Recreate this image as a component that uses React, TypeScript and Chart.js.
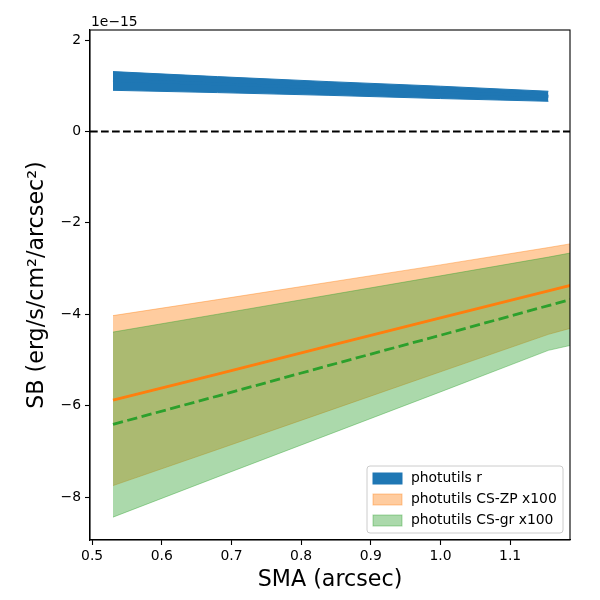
import { useEffect, useRef } from 'react'
import { Chart, registerables } from 'chart.js'

Chart.register(...registerables)

// SB values are in units of 1e-15 erg/s/cm^2/arcsec^2
const sma = [0.53, 0.68, 0.84, 1.0, 1.155, 1.26]
const smaR = [0.53, 0.68, 0.84, 1.0, 1.155]

const rUpper = [1.31, 1.2, 1.09, 0.99, 0.88]
const rLower = [0.9, 0.85, 0.79, 0.72, 0.66]
const rMid = [1.12, 1.04, 0.95, 0.86, 0.77]

const zpUpper = [-4.03, -3.68, -3.3, -2.92, -2.54, -2.27]
const zpMid = [-5.88, -5.31, -4.69, -4.08, -3.49, -3.09]
const zpLower = [-7.75, -6.96, -6.11, -5.26, -4.44, -4.0]

const grUpper = [-4.39, -4.0, -3.58, -3.16, -2.75, -2.45]
const grMid = [-6.41, -5.79, -5.12, -4.46, -3.81, -3.38]
const grLower = [-8.44, -7.56, -6.63, -5.7, -4.79, -4.43]

const xTicks = [0.5, 0.6, 0.7, 0.8, 0.9, 1.0, 1.1]
const yTicks = [-8, -6, -4, -2, 0, 2]

const legendLabels = ['photutils r', 'photutils CS-ZP x100', 'photutils CS-gr x100']
const legendFills = ['#1f77b4', 'rgba(255,127,14,0.4)', 'rgba(44,160,44,0.4)']
const legendEdges = ['#1f77b4', 'rgba(255,127,14,0.4)', 'rgba(44,160,44,0.4)']

const FONT = "'DejaVu Sans', sans-serif"

const pts = (xs: number[], ys: number[]) => xs.map((x, i) => ({ x, y: ys[i] }))

const minus = (v: number) => (v < 0 ? '\u2212' + Math.abs(v) : String(v))

const decorations = {
  id: 'decorations',
  afterDatasetsDraw(chart: any) {
    const { ctx, chartArea, scales } = chart
    const { left, right, top, bottom } = chartArea

    // dashed zero line
    const y0 = scales.y.getPixelForValue(0)
    ctx.save()
    ctx.strokeStyle = '#000'
    ctx.lineWidth = 2
    ctx.setLineDash([7.7, 3.3])
    ctx.beginPath()
    ctx.moveTo(left, y0)
    ctx.lineTo(right, y0)
    ctx.stroke()
    ctx.restore()

    // frame
    ctx.save()
    ctx.strokeStyle = '#000'
    ctx.lineWidth = 1.1
    ctx.strokeRect(left, top, right - left, bottom - top)
    ctx.restore()

    // offset text
    ctx.save()
    ctx.fillStyle = '#000'
    ctx.font = `13.9px ${FONT}`
    ctx.textAlign = 'left'
    ctx.textBaseline = 'alphabetic'
    ctx.fillText('1e\u221215', left + 1, top - 4)
    ctx.restore()

    // legend
    const boxW = 196
    const boxH = 67
    const bx = right - 7 - boxW
    const by = bottom - 7 - boxH
    ctx.save()
    ctx.beginPath()
    ctx.roundRect(bx, by, boxW, boxH, 3)
    ctx.fillStyle = 'rgba(255,255,255,0.8)'
    ctx.fill()
    ctx.strokeStyle = '#cccccc'
    ctx.lineWidth = 1
    ctx.stroke()
    ctx.font = `13.9px ${FONT}`
    ctx.textBaseline = 'middle'
    legendLabels.forEach((label, i) => {
      const cy = by + 12.5 + i * 21
      ctx.fillStyle = '#fff'
      ctx.fillRect(bx + 6, cy - 5.5, 29, 11)
      ctx.fillStyle = legendFills[i]
      ctx.fillRect(bx + 6, cy - 5.5, 29, 11)
      ctx.strokeStyle = legendEdges[i]
      ctx.strokeRect(bx + 6, cy - 5.5, 29, 11)
      ctx.fillStyle = '#000'
      ctx.fillText(label, bx + 44, cy)
    })
    ctx.restore()
  },
}

export default function App() {
  const canvasRef = useRef<HTMLCanvasElement>(null)
  const chartRef = useRef<Chart | null>(null)

  useEffect(() => {
    document.body.style.margin = '0'
    if (!canvasRef.current) return
    if (chartRef.current) chartRef.current.destroy()

    const base = { pointRadius: 0, fill: false, clip: 0, tension: 0 }

    chartRef.current = new Chart(canvasRef.current, {
      type: 'line',
      data: {
        datasets: [
          { ...base, data: pts(smaR, rUpper), borderColor: '#1f77b4', borderWidth: 1, order: 6 },
          { ...base, data: pts(smaR, rLower), borderColor: '#1f77b4', borderWidth: 1, backgroundColor: '#1f77b4', fill: 0, order: 6 },
          { ...base, data: pts(sma, zpUpper), borderColor: 'rgba(255,127,14,0.4)', borderWidth: 1, order: 5 },
          { ...base, data: pts(sma, zpLower), borderColor: 'rgba(255,127,14,0.4)', borderWidth: 1, backgroundColor: 'rgba(255,127,14,0.4)', fill: 2, order: 5 },
          { ...base, data: pts(sma, grUpper), borderColor: 'rgba(44,160,44,0.4)', borderWidth: 1, order: 4 },
          { ...base, data: pts(sma, grLower), borderColor: 'rgba(44,160,44,0.4)', borderWidth: 1, backgroundColor: 'rgba(44,160,44,0.4)', fill: 4, order: 4 },
          { ...base, data: pts(smaR, rMid), borderColor: '#1f77b4', borderWidth: 2.8, order: 3 },
          { ...base, data: pts(sma, zpMid), borderColor: '#ff7f0e', borderWidth: 2.8, order: 2 },
          { ...base, data: pts(sma, grMid), borderColor: '#2ca02c', borderWidth: 2.8, borderDash: [10.3, 4.5], order: 1 },
        ],
      },
      options: {
        animation: false,
        responsive: false,
        events: [],
        layout: { padding: { top: 30, right: 30, left: 0, bottom: 0 } },
        plugins: {
          legend: { display: false },
          tooltip: { enabled: false },
        },
        scales: {
          x: {
            type: 'linear',
            min: 0.497,
            max: 1.186,
            afterFit: (s: any) => { s.height = 60 },
            afterBuildTicks: (s: any) => { s.ticks = xTicks.map(value => ({ value })) },
            ticks: {
              autoSkip: false,
              maxRotation: 0,
              padding: 3,
              color: '#000',
              font: { family: FONT, size: 13.9 },
              callback: (v: any) => Number(v).toFixed(1),
            },
            grid: { drawOnChartArea: false, drawTicks: true, tickLength: 5, color: '#000', tickWidth: 1.1 },
            border: { display: true, color: '#000', width: 1.1 },
            title: {
              display: true,
              text: 'SMA (arcsec)',
              color: '#000',
              font: { family: FONT, size: 22.2 },
              padding: { top: 0, bottom: 6 },
            },
          },
          y: {
            type: 'linear',
            min: -8.94,
            max: 2.22,
            afterFit: (s: any) => { s.width = 90 },
            afterBuildTicks: (s: any) => { s.ticks = yTicks.map(value => ({ value })) },
            ticks: {
              autoSkip: false,
              padding: 4,
              color: '#000',
              font: { family: FONT, size: 13.9 },
              callback: (v: any) => minus(Number(v)),
            },
            grid: { drawOnChartArea: false, drawTicks: true, tickLength: 5, color: '#000', tickWidth: 1.1 },
            border: { display: true, color: '#000', width: 1.1 },
            title: {
              display: true,
              text: 'SB (erg/s/cm\u00b2/arcsec\u00b2)',
              color: '#000',
              font: { family: FONT, size: 22.2 },
              padding: { top: 24, bottom: 0 },
            },
          },
        },
      },
      plugins: [decorations],
    } as any)

    return () => {
      if (chartRef.current) {
        chartRef.current.destroy()
        chartRef.current = null
      }
    }
  }, [])

  return (
    <div style={{ width: 600, height: 600 }}>
      <canvas ref={canvasRef} width={600} height={600}></canvas>
    </div>
  )
}
